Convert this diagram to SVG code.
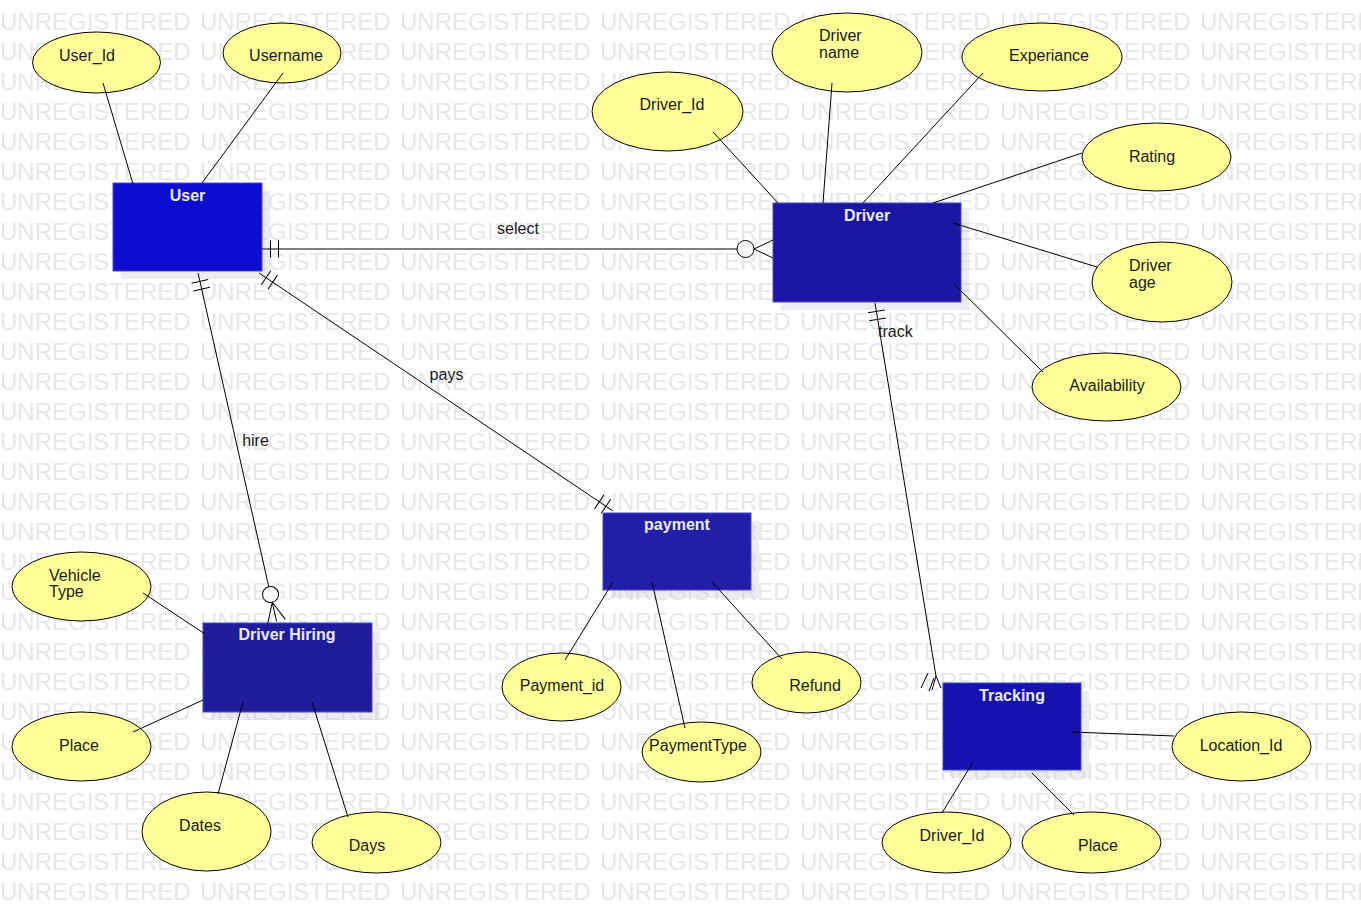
<svg xmlns="http://www.w3.org/2000/svg" width="1361" height="923" viewBox="0 0 1361 923">
<style>
.wm{font-family:"Liberation Sans",Arial,sans-serif;font-size:24px;fill:#e7e7e9}
.ent{stroke:#4a4ac8;stroke-width:1}
.shadow{fill:#c8c8d8;opacity:0.35}
.title{font-family:"Liberation Sans",Arial,sans-serif;font-size:16px;font-weight:bold;fill:#ececff;text-anchor:middle}
.attr{fill:#ffff99;stroke:#000;stroke-width:1}
.t{font-family:"Liberation Sans",Arial,sans-serif;font-size:16px;fill:#1a1a1a}
.c{text-anchor:middle}
.ln{stroke:#000;stroke-width:1;fill:none}
</style>
<defs>
<pattern id="wmp" patternUnits="userSpaceOnUse" x="0" y="0" width="200" height="30">
<text class="wm" x="0" y="30">UNREGISTERED</text>
</pattern>
<marker id="one" viewBox="-20 -10 40 20" markerWidth="40" markerHeight="20" refX="0" refY="0" markerUnits="userSpaceOnUse" orient="auto-start-reverse">
<path d="M-8.5,-8.5V8.5M-16.5,-8.5V8.5" stroke="#000" stroke-width="1" fill="none"/>
</marker>
<marker id="zm2" viewBox="-10 -10 40 20" markerWidth="40" markerHeight="20" refX="0" refY="0" markerUnits="userSpaceOnUse" orient="auto">
<circle cx="0" cy="0" r="8.5" fill="#fff" stroke="#000" stroke-width="1"/>
<path d="M8.5,0L27.5,-9M8.5,0L27.5,9" stroke="#000" stroke-width="1" fill="none"/>
</marker>
<marker id="zm3" viewBox="-10 -10 40 20" markerWidth="40" markerHeight="20" refX="0" refY="0" markerUnits="userSpaceOnUse" orient="auto">
<circle cx="0" cy="0" r="8" fill="#fff" stroke="#000" stroke-width="1"/>
<path d="M8,0L27.5,-9M8,0L27.5,0M8,0L27.5,9" stroke="#000" stroke-width="1" fill="none"/>
</marker>
</defs>
<rect x="0" y="0" width="1361" height="923" fill="#fff"/>
<rect x="0" y="0" width="1361" height="900" fill="url(#wmp)"/>

<g id="user">
<rect class="shadow" x="121" y="191" width="149" height="88"/>
<rect class="ent" x="113" y="183" width="149" height="88" fill="#0d0dd2"/>
<text class="title" x="187.5" y="201">User</text>
</g>
<g id="driver">
<rect class="shadow" x="781" y="211" width="188" height="99"/>
<rect class="ent" x="773" y="203" width="188" height="99" fill="#1a15a2"/>
<text class="title" x="867" y="221">Driver</text>
</g>
<g id="payment">
<rect class="shadow" x="611" y="521" width="148" height="77"/>
<rect class="ent" x="603" y="513" width="148" height="77" fill="#211fa8"/>
<text class="title" x="677" y="530">payment</text>
</g>
<g id="driver-hiring">
<rect class="shadow" x="211" y="631" width="169" height="89"/>
<rect class="ent" x="203" y="623" width="169" height="89" fill="#201d9c"/>
<text class="title" x="287" y="640">Driver Hiring</text>
</g>
<g id="tracking">
<rect class="shadow" x="951" y="691" width="138" height="87"/>
<rect class="ent" x="943" y="683" width="138" height="87" fill="#1512b0"/>
<text class="title" x="1012" y="701">Tracking</text>
</g>

<g id="attr-user-id"><ellipse class="attr" cx="96.5" cy="62.5" rx="64" ry="30.5"/><text class="t c" x="87" y="61">User_Id</text></g>
<g id="attr-username"><ellipse class="attr" cx="282" cy="53" rx="59" ry="30"/><text class="t c" x="286" y="61">Username</text></g>
<g id="attr-driver-id"><ellipse class="attr" cx="667.5" cy="111.5" rx="75.5" ry="39.5"/><text class="t c" x="672" y="110">Driver_Id</text></g>
<g id="attr-driver-name"><ellipse class="attr" cx="847" cy="52.5" rx="75" ry="39.5"/><text class="t" x="819" y="41">Driver</text><text class="t" x="819" y="58">name</text></g>
<g id="attr-experiance"><ellipse class="attr" cx="1042" cy="57" rx="80" ry="34"/><text class="t c" x="1049" y="61">Experiance</text></g>
<g id="attr-rating"><ellipse class="attr" cx="1156.5" cy="157" rx="74.5" ry="34"/><text class="t c" x="1152" y="162">Rating</text></g>
<g id="attr-driver-age"><ellipse class="attr" cx="1162" cy="282" rx="70" ry="40"/><text class="t" x="1129" y="271">Driver</text><text class="t" x="1129" y="288">age</text></g>
<g id="attr-availability"><ellipse class="attr" cx="1106.5" cy="387" rx="74.5" ry="34"/><text class="t c" x="1107" y="391">Availability</text></g>
<g id="attr-vehicle-type"><ellipse class="attr" cx="81.5" cy="586.5" rx="69.5" ry="34.5"/><text class="t" x="49" y="581">Vehicle</text><text class="t" x="49" y="597">Type</text></g>
<g id="attr-hiring-place"><ellipse class="attr" cx="81.5" cy="746.5" rx="69.5" ry="34.5"/><text class="t c" x="79" y="751">Place</text></g>
<g id="attr-dates"><ellipse class="attr" cx="206.5" cy="831.5" rx="64.5" ry="39.5"/><text class="t c" x="200" y="831">Dates</text></g>
<g id="attr-days"><ellipse class="attr" cx="376.5" cy="842.5" rx="64.5" ry="30.5"/><text class="t c" x="367" y="851">Days</text></g>
<g id="attr-payment-id"><ellipse class="attr" cx="561.5" cy="687" rx="59.5" ry="34"/><text class="t c" x="562" y="691">Payment_id</text></g>
<g id="attr-payment-type"><ellipse class="attr" cx="701.5" cy="752" rx="59.5" ry="30"/><text class="t c" x="698" y="751">PaymentType</text></g>
<g id="attr-refund"><ellipse class="attr" cx="806.5" cy="682.5" rx="54.5" ry="30.5"/><text class="t c" x="815" y="691">Refund</text></g>
<g id="attr-location-id"><ellipse class="attr" cx="1241.5" cy="746.5" rx="69.5" ry="34.5"/><text class="t c" x="1241" y="751">Location_Id</text></g>
<g id="attr-tracking-driver-id"><ellipse class="attr" cx="946.5" cy="842.5" rx="64.5" ry="30.5"/><text class="t c" x="952" y="841">Driver_Id</text></g>
<g id="attr-tracking-place"><ellipse class="attr" cx="1091.5" cy="842.5" rx="69.5" ry="30.5"/><text class="t c" x="1098" y="851">Place</text></g>

<g id="connectors">
<line class="ln" x1="103" y1="83" x2="133" y2="184"/>
<line class="ln" x1="283" y1="73" x2="202" y2="183"/>
<line class="ln" x1="713" y1="132" x2="778" y2="203"/>
<line class="ln" x1="832" y1="83" x2="823" y2="203"/>
<line class="ln" x1="983" y1="73" x2="863" y2="203"/>
<line class="ln" x1="1082" y1="153" x2="933" y2="203"/>
<line class="ln" x1="953" y1="223" x2="1097" y2="267"/>
<line class="ln" x1="953" y1="283" x2="1043" y2="372"/>
<line class="ln" x1="143" y1="593" x2="205" y2="634"/>
<line class="ln" x1="133" y1="732" x2="203" y2="700"/>
<line class="ln" x1="218" y1="794" x2="243" y2="702"/>
<line class="ln" x1="348" y1="817" x2="312" y2="702"/>
<line class="ln" x1="565" y1="660" x2="613" y2="582"/>
<line class="ln" x1="685" y1="728" x2="652" y2="582"/>
<line class="ln" x1="782" y1="659" x2="712" y2="582"/>
<line class="ln" x1="1072" y1="732" x2="1174" y2="736"/>
<line class="ln" x1="942" y1="813" x2="973" y2="762"/>
<line class="ln" x1="1074" y1="815" x2="1032" y2="773"/>

<path id="rel-select" class="ln" d="M262,249H745.5" marker-start="url(#one)" marker-end="url(#zm2)"/>
<text class="t c" x="518" y="234">select</text>
<path id="rel-pays" class="ln" d="M259,273L613,511" marker-start="url(#one)" marker-end="url(#one)"/>
<text class="t c" x="446.5" y="380">pays</text>
<path id="rel-hire" class="ln" d="M198,273L270.5,594.5" marker-start="url(#one)" marker-end="url(#zm3)"/>
<text class="t c" x="255.5" y="446">hire</text>
<path id="rel-track" class="ln" d="M875,303L936,676" marker-start="url(#one)"/>
<path class="ln" d="M936,676L932,690M936,676L941,688M921,688L928,673M929,691L934,678"/>
<text class="t" x="878" y="337">track</text>
</g>
</svg>
